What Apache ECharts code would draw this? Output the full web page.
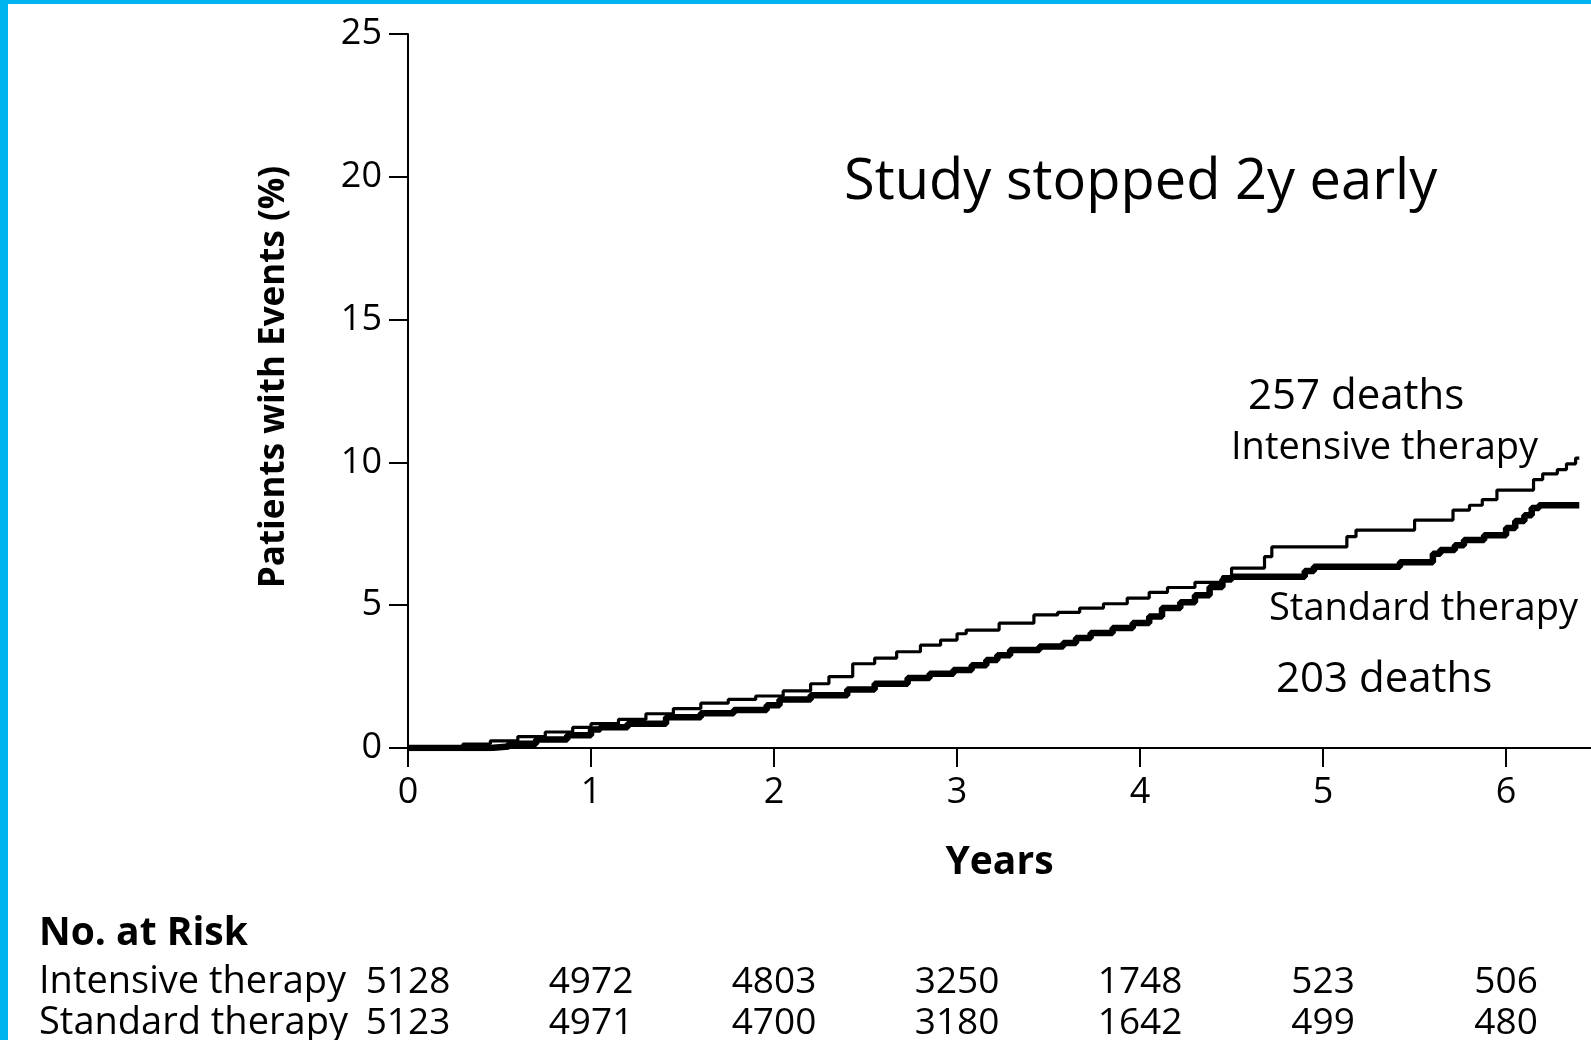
<!DOCTYPE html>
<html>
<head>
<meta charset="utf-8">
<script src="https://cdn.jsdelivr.net/npm/echarts@6/dist/echarts.min.js"></script>
<style>
html,body{margin:0;padding:0;background:#fff;}
#chart{width:1591px;height:1040px;}
</style>
</head>
<body>
<div id="chart"></div>
<script>
// ---- data ----
const xTicks = [0, 1, 2, 3, 4, 5, 6];
const yTicks = [0, 5, 10, 15, 20, 25];
const intensiveTimes = [0,0.15,0.3,0.45,0.6,0.75,0.9,1.0,1.15,1.3,1.45,1.6,1.75,1.9,2.05,2.2,2.3,2.43,2.55,2.67,2.8,2.91,3.0,3.05,3.23,3.42,3.55,3.67,3.8,3.93,4.05,4.15,4.3,4.45,4.5,4.68,4.72,5.13,5.18,5.5,5.71,5.8,5.87,5.95,6.15,6.2,6.28,6.33,6.38,6.4];
const intensiveValues = [0,0.05,0.14,0.25,0.4,0.56,0.72,0.85,1.0,1.2,1.38,1.57,1.7,1.82,2.0,2.25,2.5,2.95,3.15,3.37,3.6,3.78,4.0,4.13,4.37,4.66,4.75,4.9,5.05,5.25,5.45,5.62,5.8,6.0,6.3,6.7,7.04,7.4,7.63,7.98,8.33,8.5,8.7,9.03,9.4,9.6,9.75,9.95,10.15,10.15];
const standardTimes = [0,0.45,0.55,0.7,0.87,1.0,1.05,1.2,1.41,1.6,1.78,1.96,2.03,2.2,2.4,2.55,2.73,2.85,2.98,3.08,3.16,3.22,3.29,3.45,3.58,3.65,3.73,3.85,3.96,4.05,4.12,4.22,4.3,4.38,4.45,4.5,4.9,4.95,5.42,5.6,5.64,5.72,5.77,5.88,6.0,6.05,6.1,6.14,6.18,6.4];
const standardValues = [0,0.05,0.15,0.3,0.45,0.65,0.73,0.85,1.08,1.22,1.33,1.5,1.7,1.85,2.05,2.25,2.45,2.6,2.73,2.9,3.08,3.25,3.43,3.55,3.68,3.85,4.03,4.2,4.38,4.6,4.9,5.1,5.35,5.64,5.9,6.0,6.2,6.35,6.5,6.8,6.93,7.1,7.28,7.45,7.7,7.95,8.15,8.4,8.5,8.5];
const riskIntensive = [5128, 4972, 4803, 3250, 1748, 523, 506];
const riskStandard = [5123, 4971, 4700, 3180, 1642, 499, 480];
const seriesNames = ['Intensive therapy', 'Standard therapy'];

const FONT = 'Open Sans';
const chart = echarts.init(document.getElementById('chart'), null, {renderer: 'canvas'});

const zip = (a, b) => a.map((t, i) => [t, b[i]]);

const option = {
  animation: false,
  backgroundColor: '#ffffff',
  grid: {left: 408, right: 0, top: 34, bottom: 292, containLabel: false},
  xAxis: {
    type: 'value', min: 0, max: 6.464, interval: 1,
    axisLine: {show: true, lineStyle: {color: '#000', width: 2}},
    axisTick: {show: true, inside: false, length: 19, lineStyle: {color: '#000', width: 2}, customValues: xTicks},
    axisLabel: {show: true, margin: 27, color: '#000', fontSize: 36, fontFamily: FONT, customValues: xTicks},
    splitLine: {show: false},
    name: 'Years', nameLocation: 'middle', nameGap: 95,
    nameTextStyle: {color: '#000', fontSize: 39, fontWeight: 'bold', fontFamily: FONT}
  },
  yAxis: {
    type: 'value', min: 0, max: 25, interval: 5,
    axisLine: {show: true, lineStyle: {color: '#000', width: 2}},
    axisTick: {show: true, inside: false, length: 19, lineStyle: {color: '#000', width: 2}},
    axisLabel: {show: true, margin: 26, color: '#000', fontSize: 36, fontFamily: FONT},
    splitLine: {show: false}
  },
  series: [
    {
      name: seriesNames[1], type: 'line', step: 'end', showSymbol: false,
      data: zip(standardTimes, standardValues),
      lineStyle: {color: '#000', width: 6.5}, z: 2
    },
    {
      name: seriesNames[0], type: 'line', step: 'end', showSymbol: false,
      data: zip(intensiveTimes, intensiveValues),
      lineStyle: {color: '#000', width: 3.2}, z: 3
    }
  ]
};
chart.setOption(option);

// build annotation + risk table graphics using the chart's own x scale
const g = [];
const txt = (text, x, y, font, align) => ({type: 'text', x: x, y: y,
  style: {text: text, fill: '#000', font: font, align: align || 'left', verticalAlign: 'middle'}});
g.push({type: 'rect', shape: {x: 0, y: 0, width: 8, height: 1040}, style: {fill: '#00B4F0'}, z: 100});
g.push({type: 'rect', shape: {x: 0, y: 0, width: 1591, height: 4}, style: {fill: '#00B4F0'}, z: 100});
g.push({type: 'text', x: 274, y: 377, rotation: Math.PI / 2,
  style: {text: 'Patients with Events (%)', fill: '#000', font: 'bold 35px "' + FONT + '"', align: 'center', verticalAlign: 'middle'}});
g.push(txt('Study stopped 2y early', 844, 183, '56px "' + FONT + '"'));
g.push(txt('257 deaths', 1248, 397, '42px "' + FONT + '"'));
g.push(txt('203 deaths', 1276, 680, '42px "' + FONT + '"'));
g.push(txt(seriesNames[0], 1231, 448, '38px "' + FONT + '"'));
g.push(txt(seriesNames[1], 1269, 609, '38px "' + FONT + '"'));
g.push(txt('No. at Risk', 39, 934, 'bold 39px "' + FONT + '"'));
g.push(txt(seriesNames[0], 39, 982, '38px "' + FONT + '"'));
g.push(txt(seriesNames[1], 39, 1023, '38px "' + FONT + '"'));
xTicks.forEach((t, i) => {
  const px = chart.convertToPixel({xAxisIndex: 0}, t);
  g.push(txt(String(riskIntensive[i]), px, 982, '37px "' + FONT + '"', 'center'));
  g.push(txt(String(riskStandard[i]), px, 1023, '37px "' + FONT + '"', 'center'));
});
chart.setOption({graphic: {elements: g}});
</script>
</body>
</html>
